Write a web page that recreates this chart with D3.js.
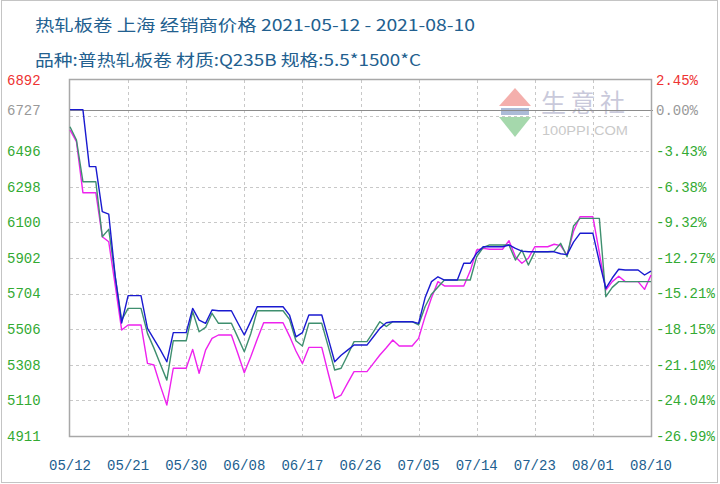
<!DOCTYPE html>
<html>
<head>
<meta charset="utf-8">
<script src="https://cdn.jsdelivr.net/npm/d3@7"></script>
<style>
  html, body { margin: 0; padding: 0; background: #fff; }
  svg { display: block; }
</style>
</head>
<body>
<svg id="chart" width="720" height="484"></svg>
<script>
// price dates 2021 (days without a price carry the last one)
const tradeDates = [
  '05-12','05-13','05-14','05-15','05-17','05-18','05-19','05-20','05-21','05-24','05-25','05-26','05-27','05-28','05-31',
  '06-01','06-02','06-03','06-04','06-07','06-08','06-09','06-10','06-11','06-15','06-16','06-17','06-18',
  '06-21','06-22','06-23','06-24','06-25','06-28','06-29','06-30',
  '07-01','07-02','07-05','07-06','07-07','07-08','07-09','07-12','07-13','07-14','07-15','07-16',
  '07-19','07-20','07-21','07-22','07-23','07-26','07-27','07-28','07-29','07-30',
  '08-02','08-03','08-04','08-05','08-06','08-09','08-10'
];

const blueValues = [
  6727, 6727, 6727, 6410, 6160, 6146, 5800, 5540, 5692, 5510, 5450, 5390, 5324, 5486, 5621,
  5556, 5538, 5612, 5608, 5540, 5473, 5550, 5630, 5630, 5584, 5463, 5486, 5584,
  5454, 5324, 5360, 5389, 5417, 5463, 5510, 5541,
  5547, 5547, 5538, 5680, 5770, 5797, 5779, 5872, 5872, 5928, 5964, 5964,
  5974, 5955, 5940, 5936, 5936, 5936, 5925, 5920, 5990, 6039,
  5880, 5733, 5790, 5839, 5835, 5807, 5829
];

const greenValues = [
  6632, 6558, 6326, 6326, 6020, 6061, 5800, 5556, 5621, 5482, 5400, 5310, 5222, 5441, 5603,
  5491, 5515, 5594, 5538, 5460, 5380, 5480, 5608, 5608, 5560, 5441, 5412, 5538,
  5410, 5278, 5288, 5360, 5436, 5490, 5547, 5520,
  5547, 5547, 5529, 5630, 5700, 5740, 5779, 5779, 5779, 5909, 5960, 5974,
  5974, 5890, 5946, 5862, 5936, 5940, 5983, 5909, 6080, 6122,
  6122, 5686, 5738, 5770, 5770, 5770, 5770
];

const magentaValues = [
  6614, 6549, 6265, 6265, 6020, 5992, 5750, 5501, 5529, 5315, 5306, 5190, 5083, 5288, 5393,
  5260, 5389, 5454, 5473, 5370, 5263, 5352, 5450, 5541, 5467, 5384, 5315, 5404,
  5260, 5121, 5139, 5205, 5269, 5315, 5362, 5402,
  5445, 5412, 5454, 5575, 5680, 5770, 5746, 5746, 5830, 5946, 5955, 5950,
  5998, 5909, 5872, 5900, 5964, 5978, 5970, 5918, 6050, 6131,
  5930, 5723, 5770, 5800, 5770, 5727, 5807
];

const basePrice = 6727;
const leftTicks = [6892, 6727, 6496, 6298, 6100, 5902, 5704, 5506, 5308, 5110, 4911];
const rightTicks = ['2.45%', '0.00%', '-3.43%', '-6.38%', '-9.32%', '-12.27%', '-15.21%', '-18.15%', '-21.10%', '-24.04%', '-26.99%'];
const xTickLabels = ['05/12', '05/21', '05/30', '06/08', '06/17', '06/26', '07/05', '07/14', '07/23', '08/01', '08/10'];

const titleLine1 = '热轧板卷 上海 经销商价格 2021-05-12 - 2021-08-10';
const titleLine2 = '品种:普热轧板卷 材质:Q235B 规格:5.5*1500*C';

const parseDay = d3.timeParse('%Y-%m-%d');
const dates = tradeDates.map(d => parseDay('2021-' + d));

const svg = d3.select('#chart');
const plot = { left: 70, right: 651, top: 80, bottom: 436 };

const x = d3.scaleTime()
  .domain([parseDay('2021-05-12'), parseDay('2021-08-10')])
  .range([plot.left, plot.right]);
const y = d3.scaleLinear()
  .domain([leftTicks[leftTicks.length - 1], leftTicks[0]])
  .range([plot.bottom, plot.top]);

// outer frame
svg.append('rect')
  .attr('x', 1.5).attr('y', 0.5).attr('width', 716).attr('height', 482)
  .attr('fill', 'none').attr('stroke', '#c4c4c4');

// titles
const titleColor = '#22608f';
svg.append('text')
  .attr('x', 35).attr('y', 31)
  .attr('font-family', '"Noto Sans CJK SC", sans-serif')
  .attr('font-size', 16).attr('fill', titleColor)
  .attr('textLength', 440).attr('lengthAdjust', 'spacingAndGlyphs')
  .text(titleLine1);
svg.append('text')
  .attr('x', 35).attr('y', 66)
  .attr('font-family', '"Noto Sans CJK SC", sans-serif')
  .attr('font-size', 16).attr('fill', titleColor)
  .attr('textLength', 386).attr('lengthAdjust', 'spacingAndGlyphs')
  .text(titleLine2);

// watermark logo
const logo = svg.append('g').attr('opacity', 0.45);
logo.append('path').attr('d', 'M515,88 L531,106 L499,106 Z').attr('fill', '#e8504a');
logo.append('path').attr('d', 'M499,117 L531,117 L515,137 Z').attr('fill', '#3aaa4a');
logo.append('rect').attr('x', 501).attr('y', 108).attr('width', 28).attr('height', 7).attr('fill', '#4a6aa8');
logo.append('text').attr('x', 541).attr('y', 112)
  .attr('font-family', '"Noto Sans CJK SC", sans-serif').attr('font-size', 25)
  .attr('fill', '#8a8ab0').attr('textLength', 84).attr('lengthAdjust', 'spacing')
  .text('生意社');
logo.append('text').attr('x', 542).attr('y', 135)
  .attr('font-family', 'Arial, "Liberation Sans", sans-serif').attr('font-size', 12)
  .attr('fill', '#888').attr('textLength', 86).attr('lengthAdjust', 'spacingAndGlyphs')
  .text('100PPI.COM');

// grid
const yGrid = d3.range(1, 10).map(k => y.domain()[0] + k * (y.domain()[1] - y.domain()[0]) / 10);
svg.append('g').selectAll('line').data(yGrid).join('line')
  .attr('x1', plot.left).attr('x2', plot.right)
  .attr('y1', d => Math.round(y(d)) + 0.5).attr('y2', d => Math.round(y(d)) + 0.5)
  .attr('stroke', '#c8c8c8').attr('stroke-dasharray', '3,3');

const xTickDates = xTickLabels.map(l => parseDay('2021-' + l.replace('/', '-')));
svg.append('g').selectAll('line').data(xTickDates.slice(1, -1)).join('line')
  .attr('x1', d => Math.round(x(d)) + 0.5).attr('x2', d => Math.round(x(d)) + 0.5)
  .attr('y1', plot.top).attr('y2', plot.bottom)
  .attr('stroke', '#c8c8c8').attr('stroke-dasharray', '3,3');

// base price line
svg.append('line')
  .attr('x1', plot.left).attr('x2', plot.right + 2)
  .attr('y1', Math.round(y(basePrice)) + 0.5).attr('y2', Math.round(y(basePrice)) + 0.5)
  .attr('stroke', '#8c8c8c').attr('stroke-width', 1);

// plot border
svg.append('rect')
  .attr('x', plot.left - 0.5).attr('y', plot.top - 0.5)
  .attr('width', plot.right - plot.left + 1).attr('height', plot.bottom - plot.top + 1)
  .attr('fill', 'none').attr('stroke', '#a8a8a8').attr('stroke-width', 1.5);

// series: price is carried over days without a quote
function withCarry(values) {
  const pts = [];
  dates.forEach((d, i) => {
    if (i > 0 && d3.timeDay.count(dates[i - 1], d) > 1) {
      pts.push([d3.timeDay.offset(d, -1), values[i - 1]]);
    }
    pts.push([d, values[i]]);
  });
  return pts;
}

const line = d3.line().x(p => x(p[0])).y(p => y(p[1]));
const series = [
  { values: magentaValues, color: '#ee22ee' },
  { values: greenValues, color: '#3f8f6f' },
  { values: blueValues, color: '#1a1ad0' }
];
svg.append('g').selectAll('path').data(series).join('path')
  .attr('d', s => line(withCarry(s.values)))
  .attr('fill', 'none')
  .attr('stroke', s => s.color)
  .attr('stroke-width', 1.4)
  .attr('stroke-linejoin', 'round');

// left axis labels
const tickFont = '"Liberation Mono", "DejaVu Sans Mono", monospace';
svg.append('g').selectAll('text').data(leftTicks).join('text')
  .attr('x', 7).attr('y', d => y(d))
  .attr('dy', '0.35em')
  .attr('font-family', tickFont).attr('font-size', 14)
  .attr('fill', (d, i) => i === 0 ? '#ee3333' : (d === basePrice ? '#999999' : '#33aa33'))
  .text(d => d);

// right axis labels
svg.append('g').selectAll('text').data(rightTicks).join('text')
  .attr('x', 656).attr('y', (d, i) => y(leftTicks[i]))
  .attr('dy', '0.35em')
  .attr('font-family', tickFont).attr('font-size', 14)
  .attr('fill', (d, i) => i === 0 ? '#ee3333' : (leftTicks[i] === basePrice ? '#999999' : '#33aa33'))
  .text(d => d);

// x axis labels
svg.append('g').selectAll('text').data(xTickLabels).join('text')
  .attr('x', (d, i) => x(xTickDates[i])).attr('y', 465)
  .attr('dy', '0.35em')
  .attr('text-anchor', 'middle')
  .attr('font-family', tickFont).attr('font-size', 14)
  .attr('fill', titleColor)
  .text(d => d);
</script>
</body>
</html>
